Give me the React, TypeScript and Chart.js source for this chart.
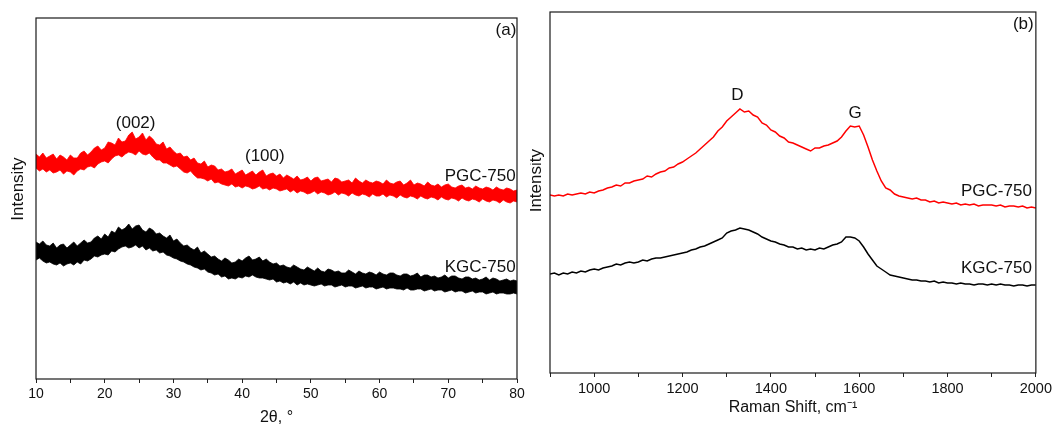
import React, { useEffect, useRef } from "react";
import { Chart, registerables } from "chart.js";

Chart.register(...registerables);

// ---------- Panel (a): XRD (noisy band read as upper / lower envelope) ----------
const XRD_ANGLE = [
  10, 10.5, 11, 11.5, 12, 12.5, 13, 13.5, 14, 14.5, 15, 15.5, 16, 16.5, 17, 17.5, 18, 18.5, 19, 19.5,
  20, 20.5, 21, 21.5, 22, 22.5, 23, 23.5, 24, 24.5, 25, 25.5, 26, 26.5, 27, 27.5, 28, 28.5, 29, 29.5,
  30, 30.5, 31, 31.5, 32, 32.5, 33, 33.5, 34, 34.5, 35, 35.5, 36, 36.5, 37, 37.5, 38, 38.5, 39, 39.5,
  40, 40.5, 41, 41.5, 42, 42.5, 43, 43.5, 44, 44.5, 45, 45.5, 46, 46.5, 47, 47.5, 48, 48.5, 49, 49.5,
  50, 50.5, 51, 51.5, 52, 52.5, 53, 53.5, 54, 54.5, 55, 55.5, 56, 56.5, 57, 57.5, 58, 58.5, 59, 59.5,
  60, 60.5, 61, 61.5, 62, 62.5, 63, 63.5, 64, 64.5, 65, 65.5, 66, 66.5, 67, 67.5, 68, 68.5, 69, 69.5,
  70, 70.5, 71, 71.5, 72, 72.5, 73, 73.5, 74, 74.5, 75, 75.5, 76, 76.5, 77, 77.5, 78, 78.5, 79, 79.5,
  80,
];
const PGC_XRD_UPPER = [
  225, 222, 226, 221, 223, 225, 220, 224, 222, 219, 224, 221, 221, 226, 228, 224, 227, 231, 233, 229,
  231, 237, 236, 234, 241, 237, 238, 244, 247, 240, 242, 246, 239, 243, 240, 235, 234, 237, 230, 232,
  228, 225, 226, 222, 223, 219, 221, 216, 215, 218, 212, 214, 213, 209, 210, 207, 208, 210, 205, 207,
  209, 204, 206, 208, 204, 207, 209, 203, 205, 206, 203, 205, 201, 204, 202, 200, 203, 199, 200, 202,
  198, 201, 202, 198, 199, 200, 197, 201, 200, 197, 198, 199, 196, 201, 198, 196, 199, 197, 196, 198,
  197, 195, 199, 196, 195, 197, 198, 194, 196, 199, 194, 196, 195, 193, 197, 194, 193, 195, 192, 194,
  195, 192, 191, 193, 194, 191, 192, 190, 193, 191, 190, 192, 191, 189, 192, 190, 189, 191, 190, 188,
  189,
];
const PGC_XRD_LOWER = [
  211, 208, 210, 207, 209, 206, 207, 209, 205, 208, 207, 204, 208, 210, 209, 212, 213, 211, 215, 217,
  218, 216, 220, 223, 224, 222, 225, 227, 226, 224, 228, 225, 224, 226, 222, 219, 219, 216, 216, 214,
  212, 213, 210, 207, 206, 208, 204, 201, 201, 200, 198, 200, 196, 197, 195, 194, 193, 195, 192, 193,
  191, 193, 192, 190, 191, 193, 190, 191, 189, 191, 190, 188, 189, 190, 187, 189, 186, 188, 187, 185,
  186, 188, 185, 187, 186, 184, 185, 187, 184, 186, 185, 183, 186, 184, 183, 185, 184, 182, 185, 183,
  183, 185, 182, 184, 183, 181, 184, 182, 181, 183, 182, 180, 183, 181, 180, 182, 181, 179, 182, 180,
  179, 181, 180, 178, 181, 179, 178, 180, 179, 177, 180, 178, 177, 179, 178, 176, 179, 177, 176, 178,
  177,
];
const KGC_XRD_UPPER = [
  137, 135, 138, 134, 133, 136, 131, 134, 135, 131, 134, 137, 133, 136, 139, 136, 137, 141, 143, 140,
  145, 142, 148, 146, 152, 149, 151, 155, 150, 153, 154, 149, 147, 151, 149, 145, 146, 143, 141, 144,
  138, 140, 136, 133, 134, 131, 129, 132, 126, 128, 125, 122, 123, 120, 118, 121, 119, 116, 117, 120,
  118, 121, 123, 119, 120, 122, 118, 120, 117, 115, 116, 113, 114, 112, 111, 114, 112, 110, 109, 112,
  110, 108, 111, 108, 107, 110, 109, 107, 108, 106, 106, 109, 107, 105, 108, 106, 105, 107, 106, 104,
  107, 105, 104, 106, 106, 104, 103, 105, 105, 103, 104, 106, 102, 104, 104, 102, 103, 101, 102, 104,
  101, 103, 103, 101, 100, 102, 102, 100, 101, 99, 100, 102, 99, 101, 100, 98, 99, 100, 98, 99,
  98,
];
const KGC_XRD_LOWER = [
  119, 121, 118, 116, 117, 115, 114, 116, 113, 115, 116, 114, 117, 115, 119, 118, 120, 123, 122, 124,
  125, 124, 128, 127, 130, 132, 133, 131, 132, 134, 131, 133, 129, 131, 128, 129, 126, 127, 124, 123,
  121, 120, 118, 117, 115, 114, 112, 111, 109, 110, 107, 106, 104, 105, 102, 103, 100, 101, 100, 102,
  101, 103, 102, 104, 102, 101, 101, 100, 99, 100, 97, 98, 96, 97, 95, 97, 94, 96, 94, 95,
  94, 93, 94, 95, 93, 94, 94, 92, 93, 94, 92, 93, 93, 91, 92, 93, 91, 92, 92, 90,
  91, 92, 90, 91, 91, 90, 90, 89, 91, 89, 89, 90, 90, 88, 89, 90, 88, 89, 89, 87,
  88, 89, 87, 88, 88, 86, 87, 88, 86, 87, 87, 85, 86, 87, 85, 86, 86, 85, 85, 86,
  85,
];
const XRD_ANNOTATIONS = [
  { text: "(002)", x: 24.5, y: 256, align: "center" },
  { text: "(100)", x: 43.3, y: 223, align: "center" },
  { text: "PGC-750", x: 79.8, y: 203, align: "right" },
  { text: "KGC-750", x: 79.8, y: 112, align: "right" },
  { text: "(a)", x: 79.9, y: 349, align: "right" },
];

// ---------- Panel (b): Raman ----------
const RAMAN_SHIFT = [
  900, 910, 920, 930, 940, 950, 960, 970, 980, 990,
  1000, 1010, 1020, 1030, 1040, 1050, 1060, 1070, 1080, 1090,
  1100, 1110, 1120, 1130, 1140, 1150, 1160, 1170, 1180, 1190,
  1200, 1210, 1220, 1230, 1240, 1250, 1260, 1270, 1280, 1290,
  1300, 1310, 1320, 1330, 1340, 1350, 1360, 1370, 1380, 1390,
  1400, 1410, 1420, 1430, 1440, 1450, 1460, 1470, 1480, 1490,
  1500, 1510, 1520, 1530, 1540, 1550, 1560, 1570, 1580, 1590,
  1600, 1610, 1620, 1630, 1640, 1650, 1660, 1670, 1680, 1690,
  1700, 1710, 1720, 1730, 1740, 1750, 1760, 1770, 1780, 1790,
  1800, 1810, 1820, 1830, 1840, 1850, 1860, 1870, 1880, 1890,
  1900, 1910, 1920, 1930, 1940, 1950, 1960, 1970, 1980, 1990,
  2000,
];
const PGC_RAMAN = [
  178, 177, 178, 177, 179, 178, 179, 180, 179, 181,
  180, 182, 183, 185, 186, 188, 187, 190, 190, 192,
  193, 194, 197, 196, 199, 201, 202, 205, 206, 209,
  211, 214, 217, 220, 224, 228, 232, 236, 242, 246,
  252, 256, 260, 264, 261, 262, 258, 256, 250, 248,
  243, 241, 237, 235, 231, 230, 228, 226, 224, 222,
  225, 225, 227, 228, 230, 232, 236, 242, 247, 246,
  247, 238, 226, 213, 202, 192, 185, 183, 179, 177,
  176, 175, 174, 175, 173, 173, 171, 172, 170, 171,
  170, 169, 170, 168, 169, 168, 169, 167, 168, 168,
  168, 167, 168, 166, 167, 167, 166, 167, 165, 166,
  165,
];
const KGC_RAMAN = [
  99, 100, 98, 100, 99, 101, 100, 102, 101, 103,
  104, 103, 105, 106, 107, 109, 108, 110, 111, 110,
  111, 113, 112, 114, 115, 115, 116, 117, 118, 119,
  120, 121, 123, 124, 126, 127, 129, 131, 133, 135,
  140, 142, 143, 145, 144, 143, 141, 139, 136, 134,
  132, 131, 129, 128, 126, 126, 124, 125, 123, 124,
  123, 125, 124, 126, 128, 129, 131, 136, 136, 135,
  132, 126, 119, 113, 107, 104, 101, 98, 97, 96,
  95, 94, 93, 93, 92, 92, 91, 92, 90, 91,
  90, 90, 89, 90, 89, 89, 88, 89, 89, 88,
  89, 88, 89, 88, 88, 87, 88, 88, 87, 88,
  88,
];
const RAMAN_ANNOTATIONS = [
  { text: "D", x: 1324, y: 278, align: "center" },
  { text: "G", x: 1591, y: 260, align: "center" },
  { text: "PGC-750", x: 1991, y: 182, align: "right" },
  { text: "KGC-750", x: 1991, y: 105, align: "right" },
  { text: "(b)", x: 1995, y: 349, align: "right" },
];

const FONT = "'Liberation Sans', Arial, sans-serif";

const pts = (xs: number[], ys: number[]) => xs.map((x, i) => ({ x, y: ys[i] }));

const framePlugin = (annotations: any[]) => ({
  id: "frameAndText",
  afterDatasetsDraw(chart: any) {
    const { ctx, chartArea } = chart;
    ctx.save();
    ctx.strokeStyle = "#1a1a1a";
    ctx.lineWidth = 1.2;
    ctx.strokeRect(chartArea.left, chartArea.top, chartArea.right - chartArea.left, chartArea.bottom - chartArea.top);
    ctx.fillStyle = "#111";
    ctx.font = `17px ${FONT}`;
    ctx.textBaseline = "middle";
    const xs = chart.scales.x;
    const ys = chart.scales.y;
    annotations.forEach((a) => {
      ctx.textAlign = a.align;
      ctx.fillText(a.text, xs.getPixelForValue(a.x), ys.getPixelForValue(a.y));
    });
    ctx.restore();
  },
});

function makeConfig(opts: {
  datasets: any[];
  xmin: number;
  xmax: number;
  step: number;
  labelEvery: number;
  xTitle: string;
  xTitlePad: number;
  xHeight: number;
  yWidth: number;
  yTitle: string;
  yTitlePad: number;
  padding: any;
  annotations: any[];
  tickFont: number;
}) {
  return {
    type: "line",
    data: { datasets: opts.datasets },
    options: {
      animation: false,
      responsive: false,
      maintainAspectRatio: false,
      layout: { padding: opts.padding },
      plugins: { legend: { display: false }, tooltip: { enabled: false } },
      elements: { point: { radius: 0 }, line: { tension: 0 } },
      scales: {
        x: {
          type: "linear",
          min: opts.xmin,
          max: opts.xmax,
          border: { display: false },
          grid: { drawOnChartArea: false, drawTicks: true, tickLength: 4, tickColor: "#222", tickWidth: 1 },
          ticks: {
            stepSize: opts.step,
            autoSkip: false,
            maxRotation: 0,
            padding: 3,
            color: "#111",
            font: { family: FONT, size: opts.tickFont },
            callback: (v: number) => (v % opts.labelEvery === 0 ? String(v) : ""),
          },
          title: {
            display: true,
            text: opts.xTitle,
            color: "#111",
            font: { family: FONT, size: 16, lineHeight: 1 },
            padding: { top: 0, bottom: opts.xTitlePad },
          },
          afterFit: (s: any) => {
            s.height = opts.xHeight;
          },
        },
        y: {
          min: 0,
          max: 361,
          border: { display: false },
          grid: { display: false },
          ticks: { display: false },
          title: {
            display: true,
            text: opts.yTitle,
            color: "#111",
            font: { family: FONT, size: 17, lineHeight: 1 },
            padding: { top: opts.yTitlePad, bottom: 0 },
          },
          afterFit: (s: any) => {
            s.width = opts.yWidth;
          },
        },
      },
    },
    plugins: [framePlugin(opts.annotations)],
  };
}

export default function App() {
  const leftRef = useRef<HTMLCanvasElement>(null);
  const rightRef = useRef<HTMLCanvasElement>(null);

  useEffect(() => {
    const left = new Chart(
      leftRef.current as HTMLCanvasElement,
      makeConfig({
        datasets: [
          { data: pts(XRD_ANGLE, PGC_XRD_LOWER), borderColor: "#ff0000", borderWidth: 0.8, fill: false },
          { data: pts(XRD_ANGLE, PGC_XRD_UPPER), borderColor: "#ff0000", borderWidth: 0.8, fill: "-1", backgroundColor: "#ff0000" },
          { data: pts(XRD_ANGLE, KGC_XRD_LOWER), borderColor: "#000000", borderWidth: 0.8, fill: false },
          { data: pts(XRD_ANGLE, KGC_XRD_UPPER), borderColor: "#000000", borderWidth: 0.8, fill: "-1", backgroundColor: "#000000" },
        ],
        xmin: 10,
        xmax: 80,
        step: 5,
        labelEvery: 10,
        xTitle: "2θ, °",
        xTitlePad: -2,
        xHeight: 45,
        yWidth: 36,
        yTitle: "    Intensity",
        yTitlePad: 10,
        padding: { left: 0, right: 13, top: 18, bottom: 0 },
        annotations: XRD_ANNOTATIONS,
        tickFont: 14,
      }) as any
    );
    const right = new Chart(
      rightRef.current as HTMLCanvasElement,
      makeConfig({
        datasets: [
          { data: pts(RAMAN_SHIFT, PGC_RAMAN), borderColor: "#ff0000", borderWidth: 1.5, fill: false },
          { data: pts(RAMAN_SHIFT, KGC_RAMAN), borderColor: "#000000", borderWidth: 1.5, fill: false },
        ],
        xmin: 900,
        xmax: 2000,
        step: 100,
        labelEvery: 200,
        xTitle: "Raman Shift, cm⁻¹",
        xTitlePad: 8,
        xHeight: 51,
        yWidth: 20,
        yTitle: "     Intensity",
        yTitlePad: -2,
        padding: { left: 0, right: 18, top: 12, bottom: 0 },
        annotations: RAMAN_ANNOTATIONS,
        tickFont: 14.5,
      }) as any
    );
    return () => {
      left.destroy();
      right.destroy();
    };
  }, []);

  return (
    <div style={{ position: "fixed", left: 0, top: 0, width: 1055, height: 424, background: "#fff" }}>
      <canvas ref={leftRef} width={530} height={424} style={{ position: "absolute", left: 0, top: 0, width: 530, height: 424 }} />
      <canvas ref={rightRef} width={525} height={424} style={{ position: "absolute", left: 530, top: 0, width: 525, height: 424 }} />
    </div>
  );
}
